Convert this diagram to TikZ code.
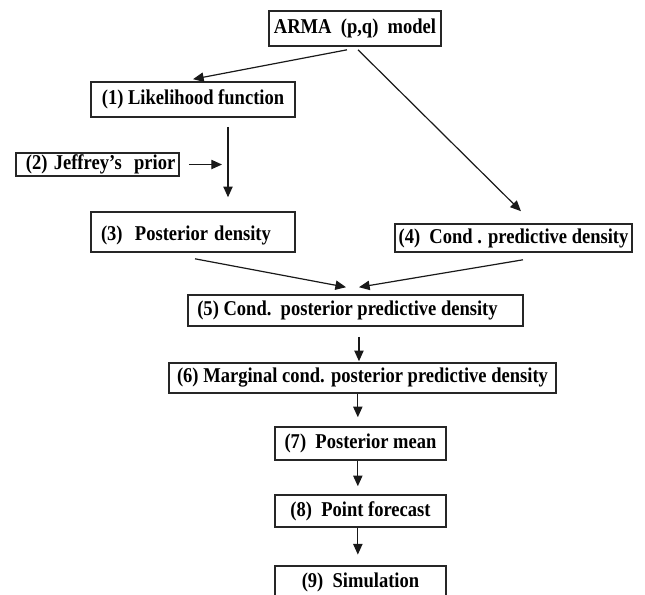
\documentclass[tikz,border=0pt]{standalone}
\usepackage{fontspec}
\setmainfont{Liberation Serif}
\usepackage{graphicx}
\usepackage{tikz}
\usetikzlibrary{arrows.meta}

\newcommand{\lbl}[1]{\scalebox{0.88}[1]{#1}}

\begin{document}
\begin{tikzpicture}[
  x=0.75pt, y=-0.75pt,
  every node/.style={font=\fontsize{15.8}{17}\selectfont\bfseries},
  box/.style={draw=black!85, line width=1.2pt, inner sep=0pt, minimum height=#1, align=center},
  box/.default=25pt,
  lbox/.style={draw=black!85, line width=1.2pt, inner xsep=7.5pt, inner ysep=0pt, text width=#1, align=left},
  edge/.style={-{Triangle[length=8pt,width=7pt]}, line width=0.9pt, black!90}
]
\useasboundingbox (0,0) rectangle (645,594);
\clip (0,0) rectangle (645,594);

\node[box=26.25pt, minimum width=129pt] (arma) at (355,28.5) {\lbl{ARMA\ \ (p,q)\ \ model}};
\node[box=26.25pt, minimum width=153pt] (lik) at (193,99.5) {\lbl{(1) Likelihood function}};
\node[lbox=107.25pt, minimum height=17.25pt] (jef) at (97.5,164.5) {\lbl{(2) Jeffrey’s\ \ prior}};
\node[lbox=138pt, minimum height=30pt] (post) at (193,232) {\raisebox{-2.5pt}[\height][\depth]{\lbl{(3)\ \ Posterior density}}};
\node[box=21pt, minimum width=177.75pt] (cond) at (513.5,238) {\lbl{(4)\ \ Cond . predictive density}};
\node[box=23.25pt, minimum width=251.25pt] (cpp) at (355.5,310.5) {\lbl{(5) Cond.\ \ posterior predictive density}\hspace{12pt}};
\node[box=22.5pt, minimum width=290.25pt] (marg) at (362.5,378) {\lbl{(6) Marginal cond. posterior predictive density}};
\node[box=24.75pt, minimum width=128.25pt] (mean) at (360.5,443.5) {\lbl{(7)\ \ Posterior mean}};
\node[box=24pt, minimum width=128.25pt] (fcst) at (360.5,511) {\lbl{(8)\ \ Point forecast}};
\node[box=24pt, minimum width=128.25pt] (sim) at (360.5,582) {\lbl{(9)\ \ Simulation}};

\coordinate (jin) at ([xshift=26.25pt]lik.south |- jef.east);

\draw[edge] ([xshift=-6pt,yshift=-2.25pt]arma.south) -- ([yshift=1.5pt]lik.north);
\draw[edge] ([xshift=2.25pt,yshift=-2.25pt]arma.south) -- ([xshift=5.6pt,yshift=9pt]cond.north);
\draw[edge, shorten <=6.75pt, shorten >=10.5pt] ([xshift=26.25pt]lik.south) -- ([xshift=26.25pt]post.north);
\draw[edge, shorten <=6.75pt, shorten >=4.5pt] (jef.east) -- (jin);
\draw[edge] ([xshift=1.5pt,yshift=-4.5pt]post.south) -- ([xshift=-7.1pt,yshift=5.25pt]cpp.north);
\draw[edge] ([xshift=7.1pt,yshift=-5.25pt]cond.south) -- ([xshift=2.6pt,yshift=5.25pt]cpp.north);
\draw[edge, shorten <=7.5pt, shorten >=0.75pt] ([xshift=2.6pt]cpp.south) -- ([xshift=2.6pt]cpp.south |- marg.north);
\draw[edge, shorten >=6.75pt] ([xshift=-2pt]mean.north |- marg.south) -- ([xshift=-2pt]mean.north);
\draw[edge, shorten >=6pt] ([xshift=-2pt]mean.south) -- ([xshift=-2pt]fcst.north);
\draw[edge, shorten >=8pt] ([xshift=-2pt]fcst.south) -- ([xshift=-2pt]sim.north);
\end{tikzpicture}
\end{document}
